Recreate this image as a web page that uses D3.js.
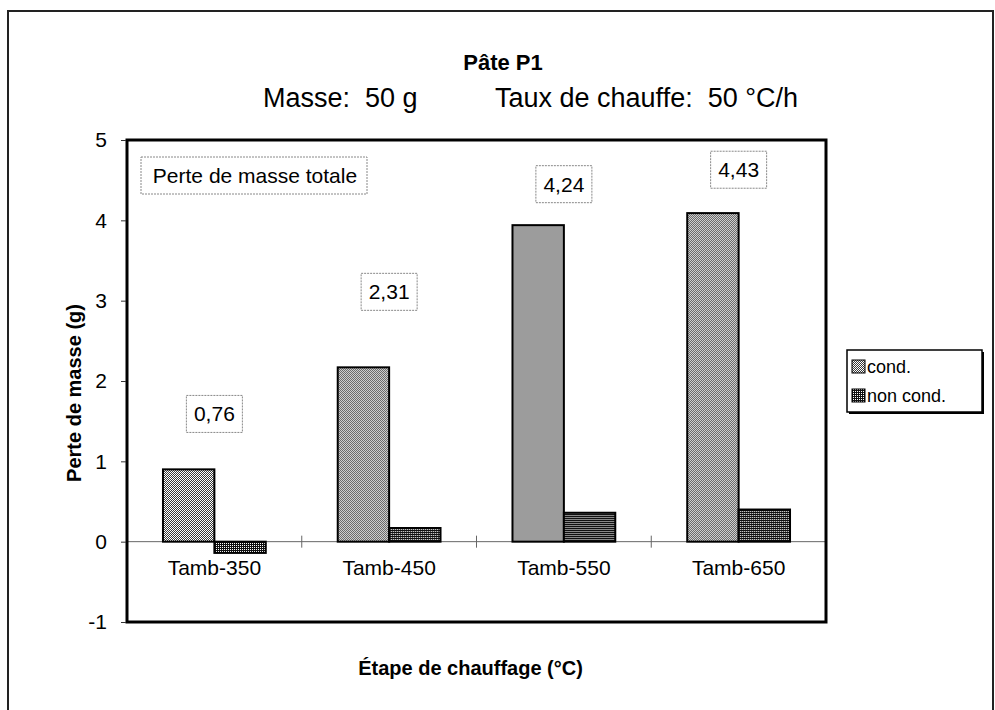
<!DOCTYPE html>
<html>
<head>
<meta charset="utf-8">
<script src="https://cdn.jsdelivr.net/npm/d3@7"></script>
<style>
  html, body { margin: 0; padding: 0; background: #fff; }
  svg { display: block; font-family: "Liberation Sans", Arial, sans-serif; }
</style>
</head>
<body>
<svg id="chart" width="995" height="710"></svg>
<script>
// ---- data ----
const categories = ["Tamb-350", "Tamb-450", "Tamb-550", "Tamb-650"];
const seriesNames = ["cond.", "non cond."];
const condValues = [0.90, 2.17, 3.94, 4.09];
const nonCondValues = [-0.14, 0.17, 0.36, 0.40];
const totalLabels = ["0,76", "2,31", "4,24", "4,43"];
const totalLabelAt = [1.59, 3.11, 4.45, 4.63];
const yTicks = [-1, 0, 1, 2, 3, 4, 5];
const chartTitle = "Pâte P1";
const subtitleLeft = "Masse:  50 g";
const subtitleRight = "Taux de chauffe:  50 °C/h";
const yTitle = "Perte de masse (g)";
const xTitle = "Étape de chauffage (°C)";
const boxNote = "Perte de masse totale";

// ---- layout ----
const svg = d3.select("#chart");
const plot = { left: 127, right: 826, top: 140, bottom: 622 };

const x = d3.scaleBand().domain(categories).range([plot.left, plot.right]).padding(0);
const x1 = d3.scaleBand().domain(seriesNames).range([0, x.bandwidth()]).paddingInner(0).paddingOuter(0.7);
const y = d3.scaleLinear().domain([-1, 5]).range([plot.bottom, plot.top]);

// patterns
const defs = svg.append("defs");
const pC = defs.append("pattern").attr("id", "patCond").attr("patternUnits", "userSpaceOnUse")
  .attr("width", 2).attr("height", 2);
pC.append("rect").attr("width", 2).attr("height", 2).attr("fill", "#fff");
pC.append("rect").attr("x", 0).attr("y", 0).attr("width", 1).attr("height", 1).attr("fill", "#3a3a3a");
pC.append("rect").attr("x", 1).attr("y", 1).attr("width", 1).attr("height", 1).attr("fill", "#3a3a3a");
const pN = defs.append("pattern").attr("id", "patNon").attr("patternUnits", "userSpaceOnUse")
  .attr("width", 2).attr("height", 2);
pN.append("rect").attr("width", 2).attr("height", 2).attr("fill", "#111");
pN.append("rect").attr("x", 1).attr("y", 1).attr("width", 1).attr("height", 1).attr("fill", "#fff");
const fills = { "cond.": "url(#patCond)", "non cond.": "url(#patNon)" };

// outer frame
svg.append("rect").attr("x", 8).attr("y", 11).attr("width", 985).attr("height", 720)
  .attr("fill", "none").attr("stroke", "#222").attr("stroke-width", 2);

// titles
svg.append("text").attr("x", 503).attr("y", 70).attr("text-anchor", "middle")
  .attr("font-weight", "bold").attr("font-size", 22).text(chartTitle);
svg.append("text").attr("x", 263).attr("y", 107).attr("font-size", 27)
  .style("white-space", "pre").text(subtitleLeft);
svg.append("text").attr("x", 798).attr("y", 107).attr("font-size", 27).attr("text-anchor", "end")
  .style("white-space", "pre").text(subtitleRight);

// zero line
svg.append("line").attr("x1", plot.left).attr("x2", plot.right).attr("y1", y(0)).attr("y2", y(0))
  .attr("stroke", "#666").attr("stroke-width", 1);
// category tick marks on zero line
const boundaries = categories.slice(1).map(c => x(c));
svg.selectAll(".xtick").data(boundaries).join("line").attr("class", "xtick")
  .attr("x1", d => d).attr("x2", d => d).attr("y1", y(0) - 6).attr("y2", y(0) + 6)
  .attr("stroke", "#666").attr("stroke-width", 1);

// bars
const rows = categories.map((c, i) => ({ cat: c, vals: [
  { s: seriesNames[0], v: condValues[i] },
  { s: seriesNames[1], v: nonCondValues[i] }
]}));
const g = svg.append("g");
g.selectAll("g.cat").data(rows).join("g").attr("class", "cat")
  .attr("transform", d => `translate(${x(d.cat)},0)`)
  .selectAll("rect").data(d => d.vals).join("rect")
  .attr("x", d => x1(d.s)).attr("width", x1.bandwidth())
  .attr("y", d => y(Math.max(0, d.v))).attr("height", d => Math.abs(y(d.v) - y(0)))
  .attr("fill", d => fills[d.s]).attr("stroke", "#000").attr("stroke-width", 2);

// category labels
svg.selectAll(".catlab").data(categories).join("text").attr("class", "catlab")
  .attr("x", d => x(d) + x.bandwidth() / 2).attr("y", 575).attr("text-anchor", "middle")
  .attr("font-size", 21).text(d => d);

// total labels (boxed)
const lab = svg.selectAll(".tot").data(categories).join("g").attr("class", "tot")
  .attr("transform", (d, i) => `translate(${x(d) + x.bandwidth() / 2},${y(totalLabelAt[i])})`);
lab.append("rect").attr("x", -28).attr("y", -18.5).attr("width", 56).attr("height", 37)
  .attr("fill", "#fff").attr("stroke", "#888").attr("stroke-width", 1).attr("stroke-dasharray", "2,1");
lab.append("text").attr("y", 7.5).attr("text-anchor", "middle").attr("font-size", 21)
  .text((d, i) => totalLabels[i]);

// note box
svg.append("rect").attr("x", 141).attr("y", 157).attr("width", 226).attr("height", 37)
  .attr("fill", "#fff").attr("stroke", "#888").attr("stroke-width", 1).attr("stroke-dasharray", "2,1");
svg.append("text").attr("x", 255).attr("y", 183).attr("text-anchor", "middle").attr("font-size", 21).text(boxNote);

// plot frame
svg.append("rect").attr("x", plot.left).attr("y", plot.top)
  .attr("width", plot.right - plot.left).attr("height", plot.bottom - plot.top)
  .attr("fill", "none").attr("stroke", "#000").attr("stroke-width", 3);

// y axis
const yAxis = d3.axisLeft(y).tickValues(yTicks).tickSize(5).tickPadding(14).tickFormat(d => String(d));
const ya = svg.append("g").attr("transform", `translate(${plot.left - 1},0)`).call(yAxis);
ya.select(".domain").remove();
ya.selectAll("text").attr("font-size", 21).attr("font-family", "Liberation Sans, Arial, sans-serif").attr("fill", "#000");
ya.selectAll("line").attr("stroke", "#333");

// axis titles
svg.append("text").attr("transform", `translate(81,${(plot.top + plot.bottom) / 2 + 12}) rotate(-90)`)
  .attr("text-anchor", "middle").attr("font-weight", "bold").attr("font-size", 20).text(yTitle);
svg.append("text").attr("x", (plot.left + plot.right) / 2 - 6).attr("y", 675).attr("text-anchor", "middle")
  .attr("font-weight", "bold").attr("font-size", 20).text(xTitle);

// legend
const leg = svg.append("g").attr("transform", "translate(847,350)");
leg.append("rect").attr("x", 2).attr("y", 2).attr("width", 135).attr("height", 62).attr("fill", "#000");
leg.append("rect").attr("width", 135).attr("height", 62).attr("fill", "#fff").attr("stroke", "#000").attr("stroke-width", 1.5);
const li = leg.selectAll(".li").data(seriesNames).join("g").attr("class", "li")
  .attr("transform", (d, i) => `translate(5,${17 + i * 29})`);
li.append("rect").attr("x", 0).attr("y", -7).attr("width", 13).attr("height", 13)
  .attr("fill", d => fills[d]).attr("stroke", "#000").attr("stroke-width", 1);
li.append("text").attr("x", 15).attr("y", 6).attr("font-size", 18).text(d => d);
</script>
</body>
</html>
